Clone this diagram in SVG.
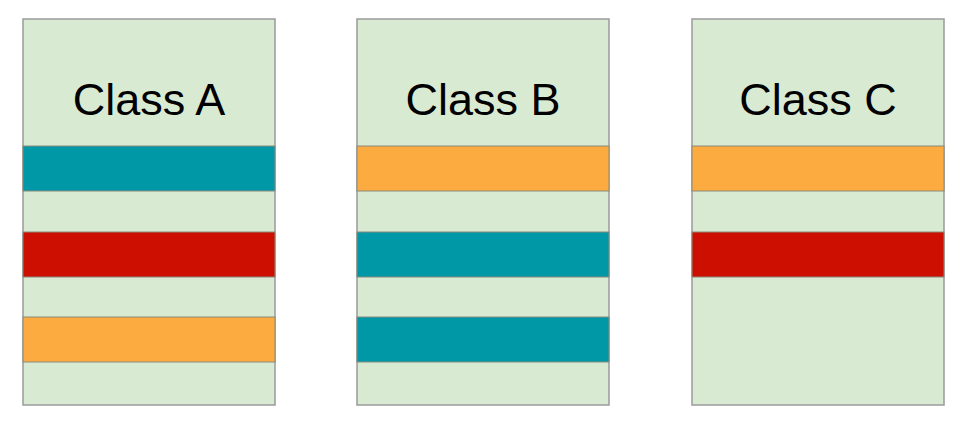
<svg xmlns="http://www.w3.org/2000/svg" width="970" height="426" viewBox="0 0 970 426">
<style>
.box{fill:#d9ead3;stroke:#9a9a9a;stroke-width:1.5}
.band{stroke:#8a8a7a;stroke-width:1}
.teal{fill:#0097a7}
.red{fill:#cc0f00}
.orange{fill:#fbab40}
.lbl{font-family:"Liberation Sans",Arial,sans-serif;font-size:45px;fill:#000;text-anchor:middle}
</style>
<rect width="970" height="426" fill="#fff"/>
<g id="classA">
<rect class="box" x="23" y="19" width="252" height="386"/>
<text class="lbl" x="149" y="115">Class A</text>
<rect class="band teal" x="23" y="146" width="252" height="45"/>
<rect class="band red" x="23" y="232" width="252" height="45"/>
<rect class="band orange" x="23" y="317" width="252" height="45"/>
</g>
<g id="classB">
<rect class="box" x="357" y="19" width="252" height="386"/>
<text class="lbl" x="483" y="115">Class B</text>
<rect class="band orange" x="357" y="146" width="252" height="45"/>
<rect class="band teal" x="357" y="232" width="252" height="45"/>
<rect class="band teal" x="357" y="317" width="252" height="45"/>
</g>
<g id="classC">
<rect class="box" x="692" y="19" width="252" height="386"/>
<text class="lbl" x="818" y="115">Class C</text>
<rect class="band orange" x="692" y="146" width="252" height="45"/>
<rect class="band red" x="692" y="232" width="252" height="45"/>
</g>
<g id="connectors"/>
</svg>
